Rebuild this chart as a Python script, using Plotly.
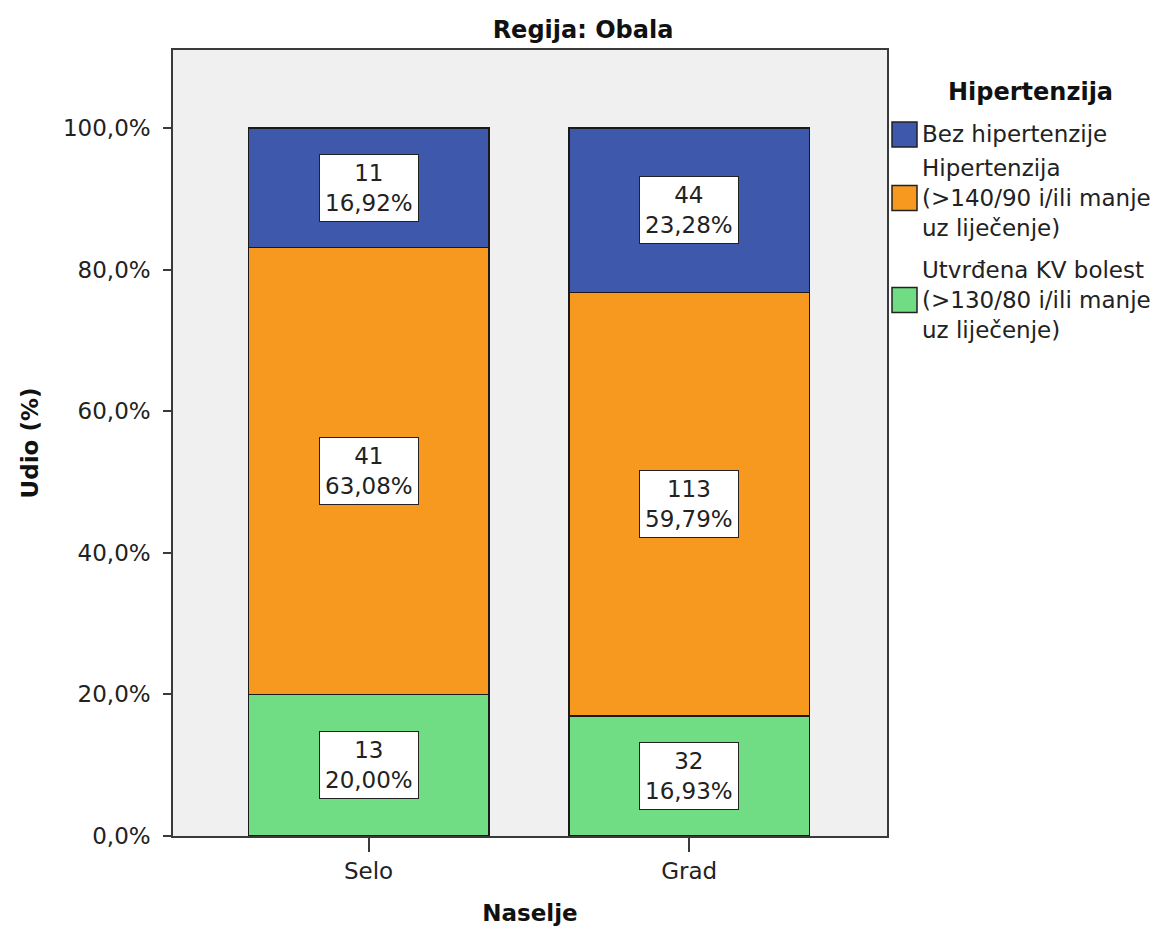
import plotly.graph_objects as go

categories = ["Selo", "Grad"]
series_names = [
    "Utvrđena KV bolest<br>(>130/80 i/ili manje<br>uz liječenje)",
    "Hipertenzija<br>(>140/90 i/ili manje<br>uz liječenje)",
    "Bez hipertenzije",
]
series_colors = ["#70DC84", "#F7991F", "#3E58AC"]
# bottom -> top
counts = [[13, 32], [41, 113], [11, 44]]
percents = [[20.00, 16.93], [63.08, 59.79], [16.92, 23.28]]

y_tickvals = [0, 20, 40, 60, 80, 100]
y_ticktext = ["0,0%", "20,0%", "40,0%", "60,0%", "80,0%", "100,0%"]
legend_title = "Hipertenzija"

FONT = "DejaVu Sans"
FS = 23
FSB = 24

W, H = 1166, 937
ML, MR, MT, MB = 173, 279, 50, 101
PW, PH = W - ML - MR, H - MT - MB


def px_x(px):
    return (px - ML) / PW


def px_y(py):
    return (H - MB - py) / PH


fig = go.Figure()
for name, col, vals in zip(series_names, series_colors, percents):
    fig.add_trace(go.Bar(
        x=categories, y=vals, name=name,
        marker=dict(color=col, line=dict(color="#1a1a1a", width=1.5)),
        width=0.75, showlegend=False,
    ))

annotations = []
for ci, cat in enumerate(categories):
    base = 0
    for si in range(len(percents)):
        v = percents[si][ci]
        mid = base + v / 2
        txt = f"{counts[si][ci]}<br>{v:.2f}%".replace(".", ",")
        annotations.append(dict(
            x=cat, y=mid, xref="x", yref="y", text=txt, showarrow=False,
            bgcolor="white", bordercolor="#222", borderwidth=1, borderpad=5,
            font=dict(family=FONT, size=FS, color="#222"),
        ))
        base += v

# manual legend (top item first)
shapes = []
annotations.append(dict(
    x=px_x(1030), y=px_y(92), xref="paper", yref="paper", xanchor="center", yanchor="middle",
    text=f"<b>{legend_title}</b>", showarrow=False,
    font=dict(family=FONT, size=FSB, color="#111"),
))
legend_centers = [134.5, 198, 300]
for name, col, cy in zip(series_names[::-1], series_colors[::-1], legend_centers):
    shapes.append(dict(
        type="rect", xref="paper", yref="paper",
        x0=px_x(892), x1=px_x(917), y0=px_y(cy - 12.5), y1=px_y(cy + 12.5),
        fillcolor=col, line=dict(color="#222", width=1.5),
    ))
    annotations.append(dict(
        x=px_x(920), y=px_y(cy), xref="paper", yref="paper", xanchor="left", yanchor="middle",
        align="left", text=name, showarrow=False,
        font=dict(family=FONT, size=FS, color="#222"),
    ))

fig.update_layout(
    barmode="stack",
    width=W, height=H,
    margin=dict(l=ML, r=MR, t=MT, b=MB, autoexpand=False),
    paper_bgcolor="white",
    plot_bgcolor="#F0F0F0",
    font=dict(family=FONT, size=FS, color="#222"),
    title=dict(text="<b>Regija: Obala</b>", x=0.5, xref="container", xanchor="center",
               y=1 - 30 / H, yref="container", yanchor="middle",
               font=dict(family=FONT, size=FSB, color="#111")),
    showlegend=False,
    annotations=annotations,
    shapes=shapes,
)

fig.update_xaxes(
    type="category", range=[-0.61, 1.617],
    showline=True, mirror=True, linecolor="#3a3a3a", linewidth=1.5,
    ticks="outside", ticklen=14, tickcolor="#3a3a3a", tickwidth=1.5,
    showgrid=False, zeroline=False,
    title=dict(text="<b>Naselje</b>", standoff=22, font=dict(family=FONT, size=FS, color="#111")),
    tickfont=dict(family=FONT, size=FS, color="#222"),
)
fig.update_yaxes(
    range=[0, 111], tickvals=y_tickvals, ticktext=y_ticktext,
    showline=True, mirror=True, linecolor="#3a3a3a", linewidth=1.5,
    ticks="outside", ticklen=8, tickcolor="#3a3a3a", tickwidth=1.5,
    showgrid=False, zeroline=False, ticklabelstandoff=8,
    title=dict(text="<b>Udio (%)</b>", standoff=18, font=dict(family=FONT, size=FS, color="#111")),
    tickfont=dict(family=FONT, size=FS, color="#222"),
)

fig.write_html("out.html", config={"displayModeBar": False},
               post_script="document.body.style.margin='0';")
